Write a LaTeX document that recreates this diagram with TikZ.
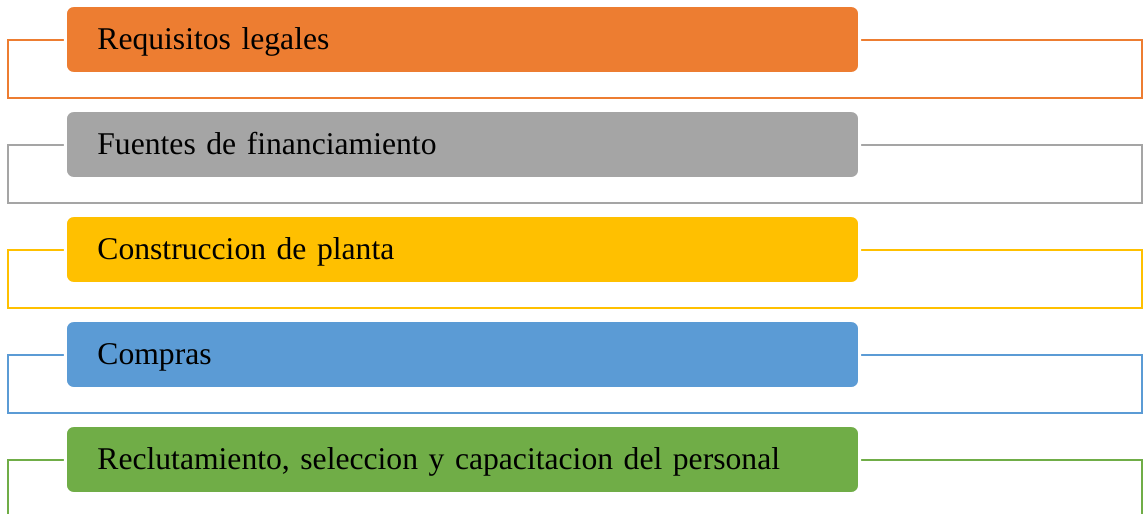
\documentclass[tikz,border=0pt]{standalone}
\usepackage{fontspec}
\setmainfont{Liberation Serif}
\definecolor{legalcol}{HTML}{ED7D31}
\definecolor{fundcol}{HTML}{A5A5A5}
\definecolor{plantcol}{HTML}{FFC000}
\definecolor{buycol}{HTML}{5B9BD5}
\definecolor{staffcol}{HTML}{70AD47}
\begin{document}
\begin{tikzpicture}
    [x=0.025cm,y=-0.025cm,
     frame/.style={line width=0.05cm},
     stage/.style={rounded corners=0.2cm,draw=white,line width=0.075cm,
       minimum width=19.85cm,minimum height=1.7cm,text width=18.25cm,
       text height=0.49cm,text depth=0pt,
       inner xsep=0.8cm,align=left,font=\fontsize{22.5}{27}\selectfont}]
    \useasboundingbox (0,0) rectangle (1144,513);
    % frames behind the stage boxes
    \draw [frame,legalcol] (8,40) rectangle (1142,98);
    \draw [frame,fundcol] (8,145) rectangle (1142,203);
    \draw [frame,plantcol] (8,250) rectangle (1142,308);
    \draw [frame,buycol] (8,355) rectangle (1142,413);
    \draw [frame,staffcol] (8,460) rectangle (1142,518);
    % stage boxes
    \node (legal) at (462.5, 39.5) [stage,fill=legalcol] {Requisitos legales};
    \node (funding) at (462.5, 144.5) [stage,fill=fundcol] {Fuentes de financiamiento};
    \node (plant) at (462.5, 249.5) [stage,fill=plantcol] {Construccion de planta};
    \node (purchases) at (462.5, 354.5) [stage,fill=buycol] {Compras};
    \node (staff) at (462.5, 459.5) [stage,fill=staffcol] {Reclutamiento, seleccion y capacitacion del personal};
  \end{tikzpicture}
\end{document}
